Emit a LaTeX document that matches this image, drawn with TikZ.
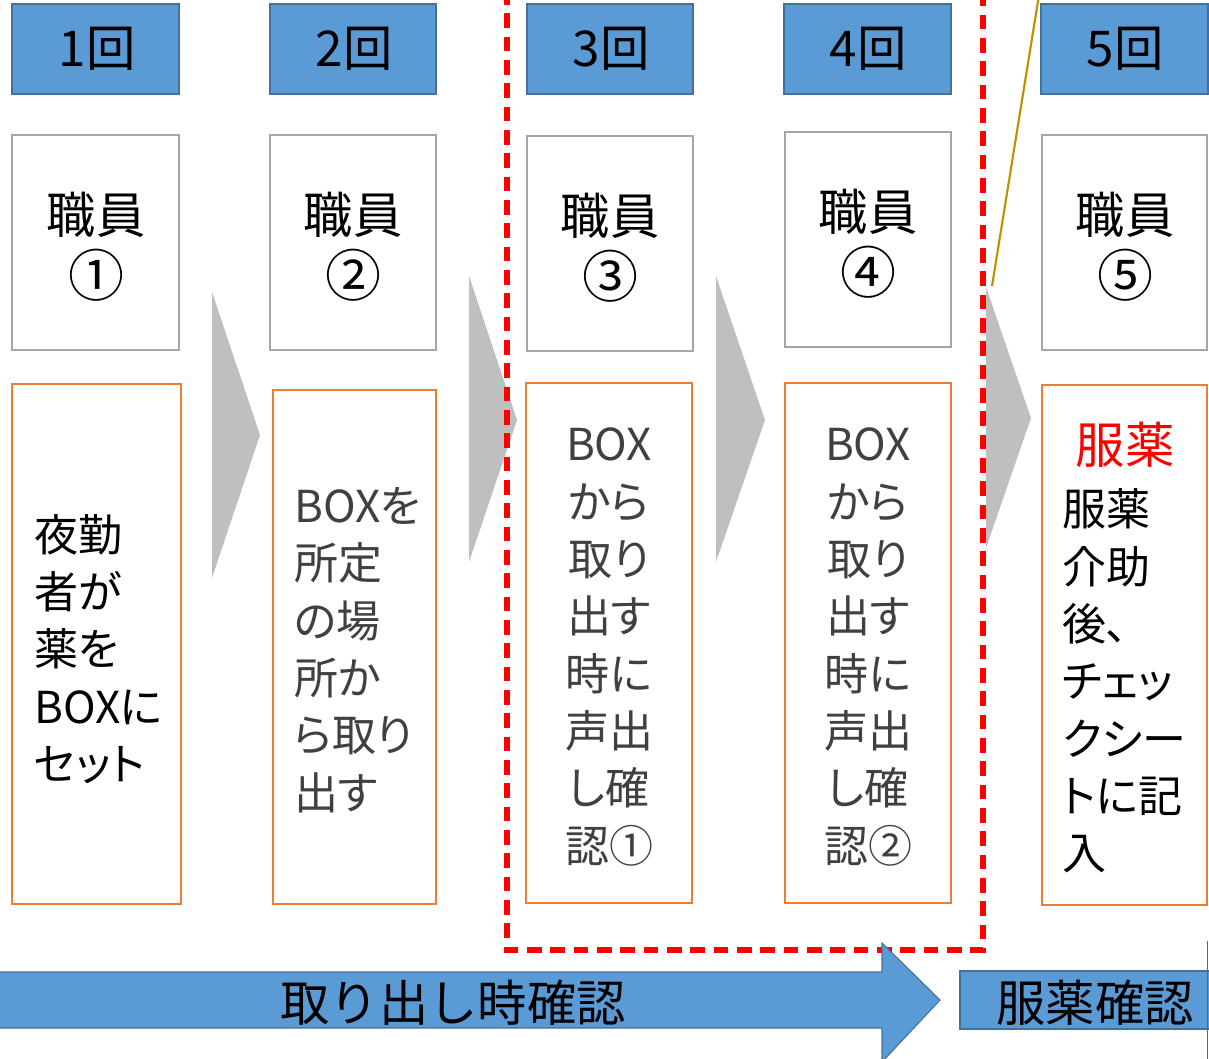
\documentclass[tikz,border=0pt]{standalone}
\usepackage{fontspec}
\setmainfont{Noto Sans CJK JP}
\newfontfamily\paltfont{Noto Sans CJK JP}[RawFeature=+palt]
\definecolor{hdrblue}{HTML}{5B9BD5}
\definecolor{hdrline}{HTML}{41719C}
\definecolor{staffline}{HTML}{A6A6A6}
\definecolor{orangeline}{HTML}{ED7D31}
\definecolor{darktext}{HTML}{404040}
\definecolor{chevgray}{HTML}{BFBFBF}
\definecolor{goldline}{HTML}{BF9000}
\newcommand{\circnum}[1]{{\fontsize{42}{45}\selectfont #1}}
\tikzset{
  hdrbox/.style={fill=hdrblue,draw=hdrline,line width=1pt},
  staffbox/.style={draw=staffline,line width=1.8pt,fill=white},
  taskbox/.style={draw=orangeline,line width=1.5pt,fill=white},
  chev/.style={fill=chevgray,draw=none},
  hdrtext/.style={font=\fontsize{37}{40}\selectfont,inner sep=0pt},
  stafftext/.style={font=\fontsize{37}{47}\selectfont,align=center,inner sep=0pt},
  tasktext/.style={font=\paltfont\fontsize{33}{43}\selectfont,inner sep=0pt},
  bigarrow/.style={fill=hdrblue,draw=hdrline,line width=0.8pt},
  arrowtext/.style={font=\fontsize{37}{40}\selectfont,inner sep=0pt}
}
\begin{document}
\begin{tikzpicture}[x=0.75pt,y=-0.75pt]
\useasboundingbox (0,0) rectangle (1209,1058);
\clip (0,0) rectangle (1209,1058);
% chevrons
\fill[chev] (212,292) -- (260,435) -- (212,578) -- cycle;
\fill[chev] (469,276) -- (517,420) -- (469,562) -- cycle;
\fill[chev] (716,276) -- (765,420) -- (716,562) -- cycle;
\fill[chev] (986,287) -- (1031,418) -- (986,548) -- cycle;
% header boxes
\path[hdrbox] (12,4) rectangle (179,94);
\path[hdrbox] (270,4) rectangle (436,94);
\path[hdrbox] (527,4) rectangle (693,94);
\path[hdrbox] (784,4) rectangle (951,94);
\path[hdrbox] (1041,4) rectangle (1208,94);
\node[hdrtext] (h1) at (97,49) {1回};
\node[hdrtext] (h2) at (354,49) {2回};
\node[hdrtext] (h3) at (611,49) {3回};
\node[hdrtext] (h4) at (868,49) {4回};
\node[hdrtext] (h5) at (1125,49) {5回};
% staff boxes
\path[staffbox] (12,135) rectangle (179,350);
\path[staffbox] (270,135) rectangle (436,350);
\path[staffbox] (527,136) rectangle (693,351);
\path[staffbox] (785,132) rectangle (951,347);
\path[staffbox] (1042,135) rectangle (1207,350);
\node[stafftext] (s1) at (96,247) {職員\\\circnum{①}};
\node[stafftext] (s2) at (353,247) {職員\\\circnum{②}};
\node[stafftext] (s3) at (610,248) {職員\\\circnum{③}};
\node[stafftext] (s4) at (868,244) {職員\\\circnum{④}};
\node[stafftext] (s5) at (1125,247) {職員\\\circnum{⑤}};
% task boxes
\path[taskbox] (12,384) rectangle (181,904);
\path[taskbox] (273,390) rectangle (436,904);
\path[taskbox] (526,383) rectangle (692,903);
\path[taskbox] (785,383) rectangle (951,903);
\path[taskbox] (1042,385) rectangle (1207,905);
\node[tasktext,align=left,anchor=west] (t1) at (34,649) {夜勤\\者が\\薬を\\BOXに\\セット};
\node[tasktext,align=left,anchor=west,text=darktext] (t2) at (294,650) {BOXを\\所定\\の場\\所か\\ら取り\\出す};
\node[tasktext,align=center,text=darktext] (t3) at (609,647) {BOX\\から\\取り\\出す\\時に\\声出\\し確\\認①};
\node[tasktext,align=center,text=darktext] (t4) at (868,647) {BOX\\から\\取り\\出す\\時に\\声出\\し確\\認②};
\node[font=\fontsize{37}{40}\selectfont,inner sep=0pt,text=red] (t5a) at (1125,445) {服薬};
\node[tasktext,align=left,anchor=west] (t5) at (1062,681) {服薬\\介助\\後、\\チェッ\\クシー\\トに記\\入};
% red dashed frame
\draw[red,line width=3.8pt,dash pattern=on 11pt off 6.5pt] (507,-10) -- (507,950) -- (983,950) -- (983,-10);
% gold line
\draw[goldline,line width=1.6pt] (1039,-5) -- (992,286);
% bottom arrows
\path[bigarrow] (-5,972) -- (882,972) -- (882,943) -- (940,1000) -- (882,1062) -- (882,1028) -- (-5,1028) -- cycle;
\node[arrowtext] (a1) at (453,1003) {取り出し時確認};
\path[bigarrow] (960,971) rectangle (1220,1029);
\node[arrowtext] (a2) at (1095,1003) {服薬確認};
\draw[hdrline,line width=0.8pt] (1207.5,941) -- (1207.5,1060);
\end{tikzpicture}
\end{document}
